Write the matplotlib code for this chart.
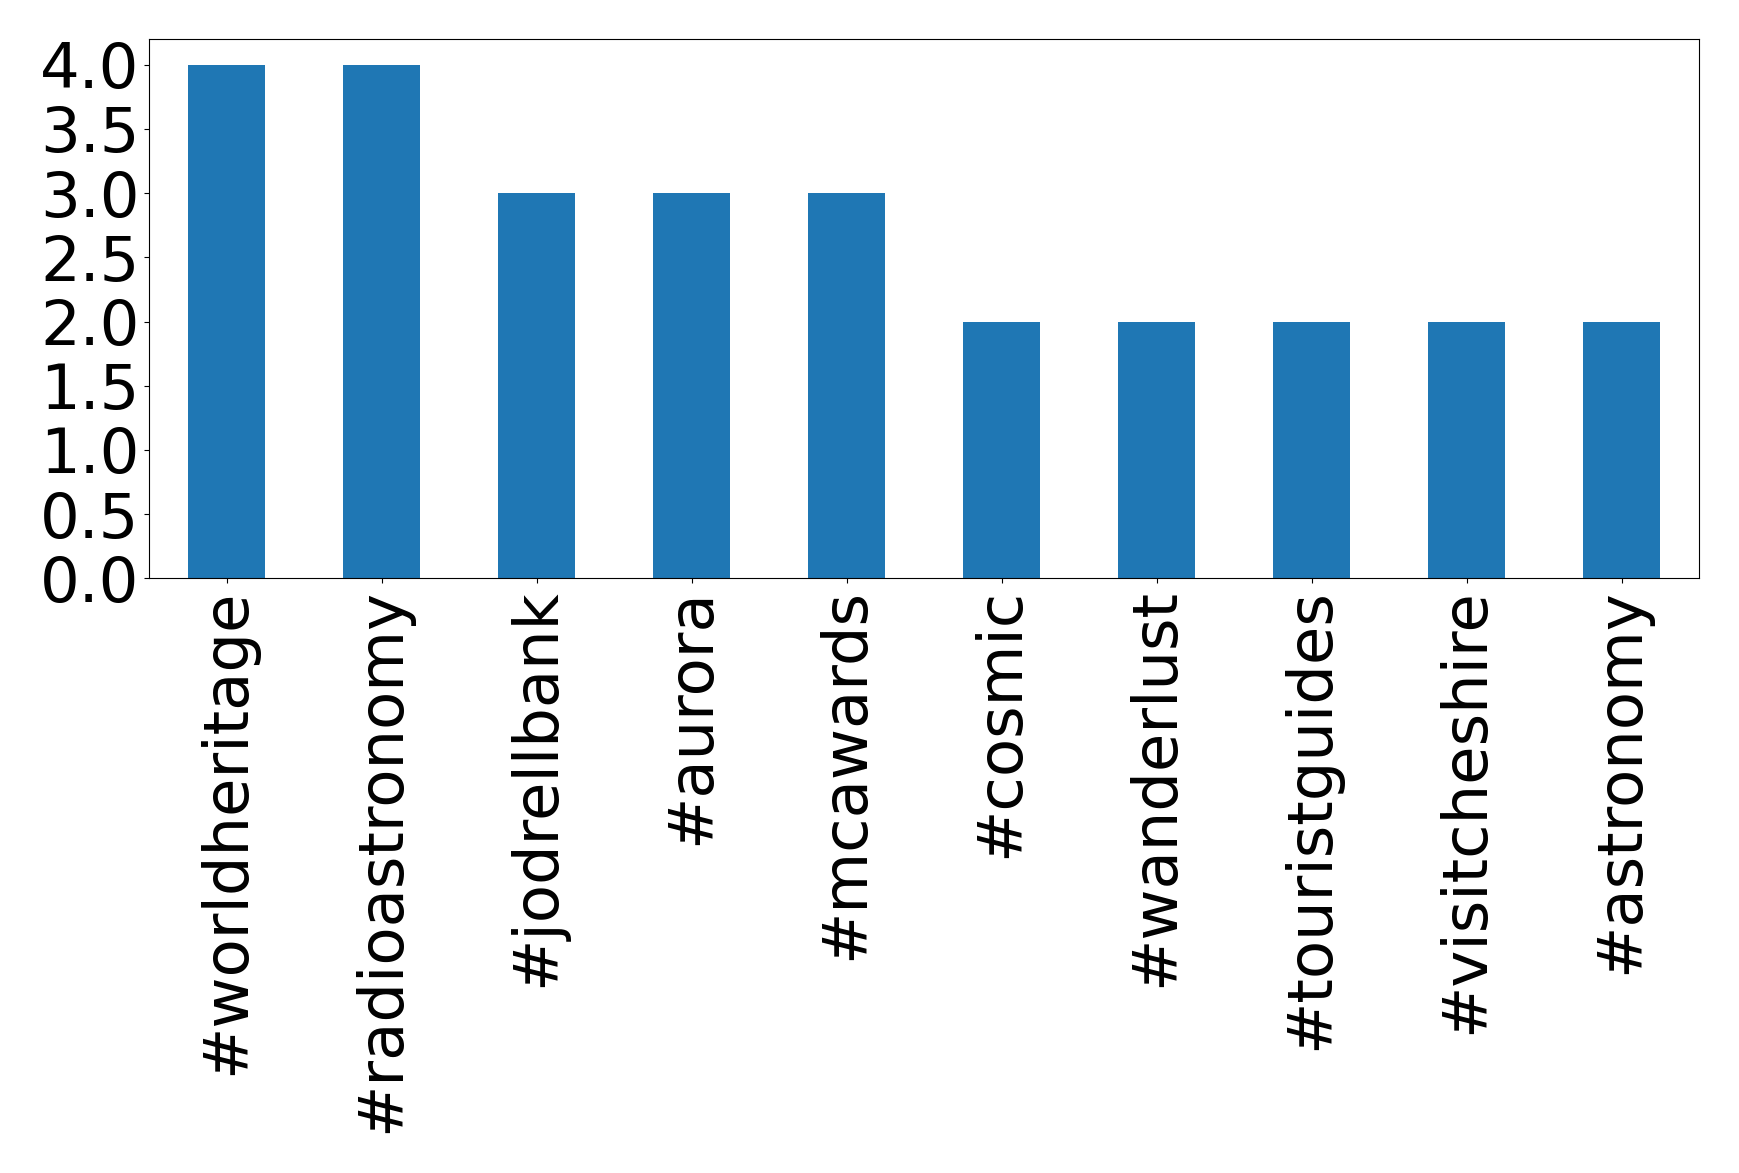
import matplotlib
matplotlib.use("Agg")
import matplotlib.pyplot as plt
import numpy as np
import pandas as pd

hashtags = ["#worldheritage", "#radioastronomy", "#jodrellbank", "#aurora", "#mcawards",
            "#cosmic", "#wanderlust", "#touristguides", "#visitcheshire", "#astronomy"]
counts = [4, 4, 3, 3, 3, 2, 2, 2, 2, 2]

s = pd.Series(counts, index=hashtags)

fig, ax = plt.subplots(figsize=(17.39, 11.73), dpi=100)
s.plot(kind="bar", ax=ax, color="#1f77b4", fontsize=45)
ax.set_yticks(np.arange(0, 4.01, 0.5))
ax.set_yticklabels([f"{v:.1f}" for v in np.arange(0, 4.01, 0.5)])
ax.tick_params(axis="both", labelsize=45)
fig.subplots_adjust(left=0.0858, right=0.977, top=0.9667, bottom=0.507)
fig.savefig("out.png", dpi=100)
